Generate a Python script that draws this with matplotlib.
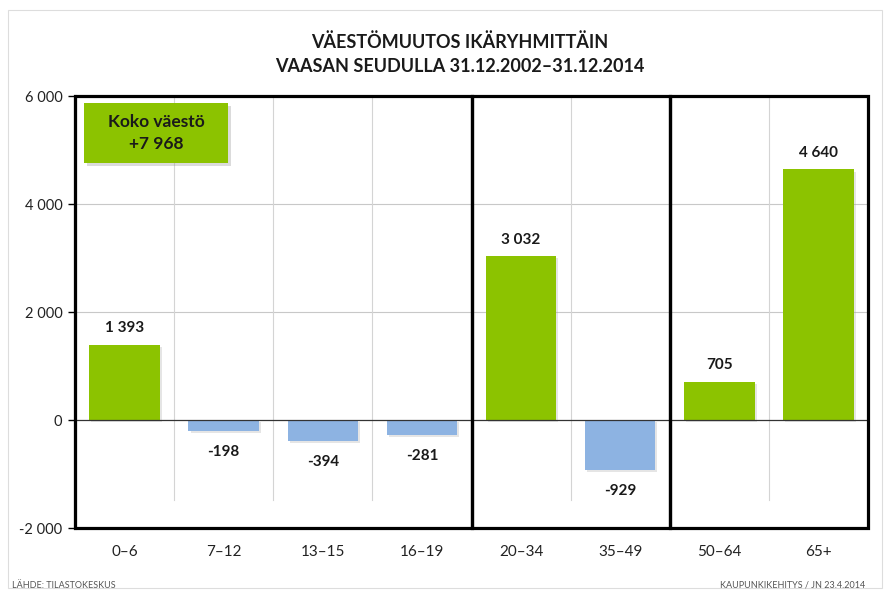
import numpy as np
import matplotlib.pyplot as plt
import matplotlib.patheffects as pe
from matplotlib.patches import Rectangle, FancyBboxPatch

plt.rcParams['font.family'] = ['Lato', 'DejaVu Sans']

# data
ikaryhmat = ['0–6', '7–12', '13–15', '16–19', '20–34', '35–49', '50–64', '65+']
muutos = [1393, -198, -394, -281, 3032, -929, 705, 4640]
yticks = [-2000, 0, 2000, 4000, 6000]
ryhmat = [(0, 3), (4, 5), (6, 7)]   # black frames around category groups
koko = 7968

vihrea = '#8cc300'
sininen = '#8db3e2'

def fi(n):
    s = f'{abs(n):,}'.replace(',', ' ')
    return ('-' if n < 0 else '') + s

fig = plt.figure(figsize=(8.9, 5.91), dpi=100)
ax = fig.add_axes([75/890, 1-528/591, 793/890, 432/591])

x = np.arange(len(ikaryhmat))
colors = [vihrea if v > 0 else sininen for v in muutos]
shadow = [pe.SimplePatchShadow(offset=(1.5, -1.5), shadow_rgbFace='#aaaaaa', alpha=0.3), pe.Normal()]
bars = ax.bar(x, muutos, width=0.71, color=colors, zorder=3)
for b in bars:
    b.set_path_effects(shadow)

for xi, v in zip(x, muutos):
    off = 7 if v > 0 else -10
    ax.annotate(fi(v), (xi, v), xytext=(0, off), textcoords='offset points',
                ha='center', va='bottom' if v > 0 else 'top',
                fontsize=11, fontweight='bold', color='#1a1a1a', zorder=5)

ax.set_xlim(-0.5, len(ikaryhmat) - 0.5)
ax.set_ylim(-2000, 6000)
ax.set_yticks(yticks)
ax.set_yticklabels([fi(t) for t in yticks], fontsize=10.5, color='#222222')
ax.set_xticks(x)
ax.set_xticklabels(ikaryhmat, fontsize=11, color='#222222')
ax.tick_params(axis='x', length=0, pad=12)
ax.tick_params(axis='y', length=5, width=1, direction='out', pad=4)

# grid
for t in [2000, 4000]:
    ax.axhline(t, color='#c8c8c8', lw=0.8, zorder=1)
for xi in x[:-1]:
    ax.axvline(xi + 0.5, ymin=28/432, ymax=1, color='#d4d4d4', lw=0.8, zorder=1)
ax.axhline(0, color='#333333', lw=0.9, zorder=4)

for s in ['top', 'right', 'bottom']:
    ax.spines[s].set_visible(False)
ax.spines['left'].set_linewidth(2.2)

# group frames
for a, b in ryhmat:
    ax.add_patch(Rectangle((a - 0.5, -2000), b - a + 1, 8000, fill=False,
                           edgecolor='black', lw=2.3, zorder=6, clip_on=False))

# total box
box = FancyBboxPatch((84/890, 1-163/591), 144/890, 60/591, boxstyle='square,pad=0',
                     transform=fig.transFigure, facecolor=vihrea, edgecolor='none', zorder=7)
box.set_path_effects([pe.SimplePatchShadow(offset=(2, -2), shadow_rgbFace='#999999', alpha=0.35), pe.Normal()])
fig.patches.append(box)
fig.text(156/890, 1-133/591, 'Koko väestö\n+' + fi(koko), ha='center', va='center',
         fontsize=12.5, fontweight='bold', color='#1a1a1a', linespacing=1.5, zorder=8)

# titles
fig.text(460/890, 1-42/591, 'VÄESTÖMUUTOS IKÄRYHMITTÄIN', ha='center', va='center',
         fontsize=13, fontweight='bold', color='#1a1a1a')
fig.text(460/890, 1-67/591, 'VAASAN SEUDULLA 31.12.2002–31.12.2014', ha='center', va='center',
         fontsize=13, fontweight='bold', color='#1a1a1a')

fig.text(12/890, 1-585/591, 'LÄHDE: TILASTOKESKUS', ha='left', va='center',
         fontsize=6.5, color='#555555')
fig.text(865/890, 1-585/591, 'KAUPUNKIKEHITYS / JN 23.4.2014', ha='right', va='center',
         fontsize=6.5, color='#555555')

# outer light frame
fig.patches.append(Rectangle((8/890, 1-588/591), 874/890, 578/591, transform=fig.transFigure,
                             fill=False, edgecolor='#dddddd', lw=0.8))

fig.savefig('out.png', dpi=100)
